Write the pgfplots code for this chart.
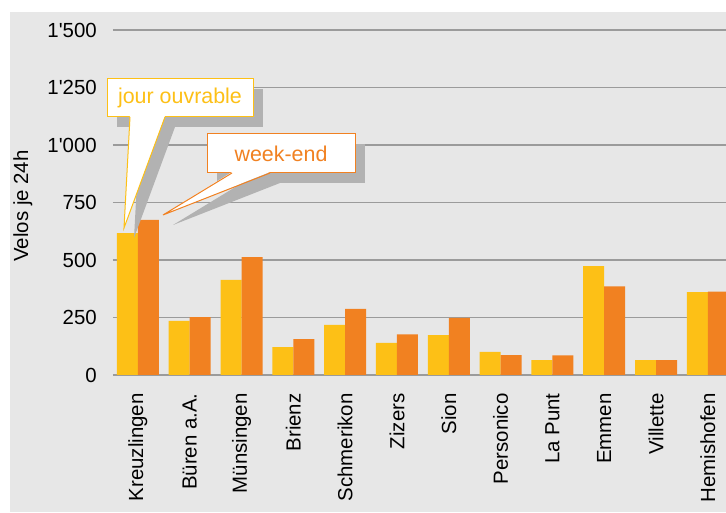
\documentclass[border=0pt]{standalone}
\usepackage{fontspec}
\setmainfont{Liberation Sans}
\usepackage{pgfplots}
\pgfplotsset{compat=1.18}

\definecolor{cjour}{RGB}{253,192,22}
\definecolor{cweek}{RGB}{241,129,33}
\definecolor{bggray}{RGB}{231,231,231}
\definecolor{gridgray}{RGB}{155,155,155}
\definecolor{shadowgray}{RGB}{178,178,178}
\newcommand{\ap}{\textquotesingle}

\begin{document}
\begin{tikzpicture}[x=1bp,y=1bp]
\useasboundingbox (-113,-138) rectangle (613,375);
\fill[white] (-113,-138) rectangle (613,375);
\fill[bggray] (-103,-137) rectangle (613,363);
\begin{axis}[at={(0,0)}, anchor=south west, scale only axis,
  width=613bp, height=345bp,
  ybar=0pt, bar width=21bp,
  xmin=-0.48, xmax=11.35, ymin=0, ymax=1500,
  axis line style={draw=none}, tick style={draw=none},
  ymajorgrids, grid style={gridgray, line width=1.8bp},
  xtick={0,...,11},
  xticklabels={Kreuzlingen, Büren a.A., Münsingen, Brienz, Schmerikon, Zizers, Sion, Personico, La Punt, Emmen, Villette, Hemishofen},
  ytick={0,250,500,750,1000,1250,1500},
  yticklabels={0,250,500,750,1\ap000,1\ap250,1\ap500},
  tick label style={font=\fontsize{20.5}{24}\selectfont},
  xticklabel style={rotate=90, anchor=east, inner sep=0pt},
  xticklabel shift=14bp,
  yticklabel style={anchor=east, inner sep=0pt, xshift=-16bp},
  ylabel={Velos je 24h},
  every axis y label/.style={at={(axis description cs:-0.147,0.49)}, rotate=90, anchor=center, font=\fontsize{20.5}{24}\selectfont},
]
\addplot[fill=cjour, draw=none] coordinates {
(0,617) (1,235) (2,414) (3,121) (4,218) (5,140) (6,173) (7,101) (8,65) (9,473) (10,65) (11,360)
};
\addplot[fill=cweek, draw=none] coordinates {
(0,674) (1,252) (2,513) (3,156) (4,288) (5,177) (6,248) (7,86) (8,85) (9,385) (10,65) (11,363)
};
\end{axis}
% callout shadows
\fill[shadowgray] (4,248) rectangle (150,286);
\fill[shadowgray] (27,248) -- (21,137) -- (62,248) -- cycle;
\fill[shadowgray] (104,192) rectangle (252,231);
\fill[shadowgray] (129,192) -- (60,150) -- (167,192) -- cycle;
% jour ouvrable
\fill[white] (-6,258) rectangle (140,296);
\draw[cjour, line width=1bp] (-6,258) rectangle (140,296);
\fill[white] (17,259) -- (11,147) -- (52,259) -- cycle;
\draw[cjour, line width=1bp] (17,258) -- (11,147) -- (52,258);
\node[cjour, font=\fontsize{21.5}{25}\selectfont] at (67,277) {jour ouvrable};
% week-end
\fill[white] (94,202) rectangle (242,241);
\draw[cweek, line width=1bp] (94,202) rectangle (242,241);
\fill[white] (119,203) -- (50,160) -- (157,203) -- cycle;
\draw[cweek, line width=1bp] (119,202) -- (50,160) -- (157,202);
\node[cweek, font=\fontsize{21.5}{25}\selectfont] at (168,221.5) {week-end};
\end{tikzpicture}
\end{document}
